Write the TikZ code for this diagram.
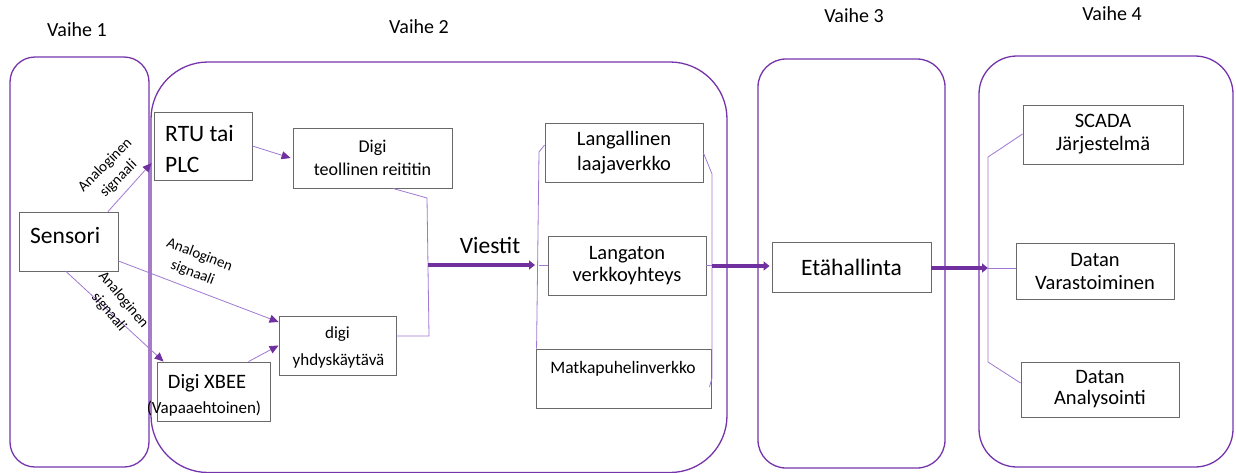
\documentclass[tikz,border=0pt]{standalone}
\usepackage{fontspec}
\setmainfont{Carlito}
\usetikzlibrary{arrows.meta}
\definecolor{panel}{RGB}{118,52,172}
\definecolor{conn}{RGB}{160,120,210}
\definecolor{tipc}{RGB}{112,48,160}
\definecolor{boxc}{RGB}{105,105,105}
\begin{document}
\begin{tikzpicture}[x=1pt,y=-1pt,
  panelst/.style={draw=panel, line width=1.3pt},
  box/.style={draw=boxc, line width=0.9pt, inner sep=0pt, fill=white},
  txt/.style={inner sep=0pt, text=black},
  conn/.style={draw=conn, line width=0.8pt, -{Triangle[length=9pt,width=8pt,color=tipc]}},
  brk/.style={draw=conn, line width=0.8pt},
  thickarr/.style={draw=tipc, line width=3.5pt, -{Triangle[length=6pt,width=9pt]}},
  lbl/.style={inner sep=0pt, align=center, font=\fontsize{15}{19}\selectfont},
  head/.style={inner sep=0pt, anchor=base, font=\fontsize{20}{24}\selectfont},
  big/.style={font=\fontsize{23.5}{28}\selectfont},
  mid/.style={align=center, font=\fontsize{20.5}{23}\selectfont}
]
\useasboundingbox (0,0) rectangle (1236,472);

% panels
\draw[panelst, rounded corners=25pt] (10,57) rectangle (149,467);
\draw[panelst, rounded corners=57pt] (151,62) rectangle (727,472.5);
\draw[panelst, rounded corners=28pt] (758,59) rectangle (945,468);
\draw[panelst, rounded corners=38pt] (979,56) rectangle (1233,467);

% headers
\node[head] (h1) at (77,36) {Vaihe 1};
\node[head] (h2) at (419,33) {Vaihe 2};
\node[head] (h3) at (854,22) {Vaihe 3};
\node[head] (h4) at (1112,20) {Vaihe 4};

% boxes
\node[box, minimum width=99pt, minimum height=59pt] (sensori) at (68.5,241.5) {};
\node[txt, big, anchor=base west] (sensoriT) at (30,243) {Sensori};

\node[box, minimum width=98pt, minimum height=68pt] (rtu) at (203,146) {};
\node[txt, big, anchor=base west] (rtuT1) at (165,141) {RTU tai};
\node[txt, big, anchor=base west] (rtuT2) at (165,172) {PLC};

\node[box, minimum width=159pt, minimum height=60pt, align=center,
      font=\fontsize{18}{23}\selectfont] (router) at (372.5,158) {Digi\\teollinen reititin};

\node[box, minimum width=117pt, minimum height=59pt] (yhdys) at (337.5,345.5) {};
\node[txt, anchor=base, font=\fontsize{17}{20}\selectfont] (yhdysT1) at (337.5,338) {digi};
\node[txt, anchor=base, font=\fontsize{17}{20}\selectfont] (yhdysT2) at (338.5,365) {yhdyskäytävä};

\node[box, minimum width=113pt, minimum height=59pt] (xbee) at (213.5,391.5) {};
\node[txt, anchor=base, font=\fontsize{20.5}{24}\selectfont] (xbeeT1) at (207,388) {Digi XBEE};
\node[txt, anchor=base, font=\fontsize{17}{20}\selectfont] (xbeeT2) at (204,413) {(Vapaaehtoinen)};

\node[box, mid, minimum width=158pt, minimum height=59pt,
      font=\fontsize{20.5}{25}\selectfont] (lan) at (624,152.5) {Langallinen\\laajaverkko};
\node[box, mid, minimum width=158pt, minimum height=59pt,
      font=\fontsize{20.5}{22}\selectfont] (wlan) at (627,265.5) {Langaton\\verkkoyhteys};
\node[box, minimum width=175pt, minimum height=59pt] (matka) at (623.5,378.5) {};
\node[txt, anchor=base, font=\fontsize{17.5}{20}\selectfont] (matkaT) at (623,373) {Matkapuhelinverkko};

\node[box, big, minimum width=159pt, minimum height=50pt] (eta) at (851.5,267) {Etähallinta};

\node[box, mid, minimum width=160pt, minimum height=59pt] (scada) at (1103,134.5) {SCADA\\Järjestelmä};
\node[box, mid, minimum width=158pt, minimum height=56pt] (vara) at (1095,271) {Datan\\Varastoiminen};
\node[box, mid, minimum width=158pt, minimum height=55pt,
      font=\fontsize{20.5}{21}\selectfont] (anal) at (1100,389.5) {Datan\\Analysointi};

% connectors from sensor
\draw[conn] ([xshift=39.5pt]sensori.north) -- ([xshift=-2pt,yshift=-17pt]rtu.west);
\draw[conn] ([yshift=-19.5pt]sensori.east) -- ([yshift=23.5pt]yhdys.west);
\draw[conn] ([xshift=-2.5pt]sensori.south) -- ([xshift=7pt]xbee.north west);
\draw[conn] ([xshift=-22pt]xbee.north east) -- (yhdys.west);
\draw[conn] (rtu.east) -- ([xshift=-2pt]router.west);

\node[lbl, rotate=45] (l1) at (112,172) {Analoginen\\signaali};
\node[lbl, rotate=-21] (l2) at (196,264) {Analoginen\\signaali};
\node[lbl, rotate=-50] (l3) at (116,306) {Analoginen\\signaali};

% gateway bracket and Viestit
\coordinate (rb1) at (427,198);
\coordinate (rb2) at (429,336);
\draw[brk] ([xshift=20.5pt]router.south) -- (rb1) -- (rb2) -- (yhdys.east |- rb2);
\coordinate (vs) at (428,265);
\coordinate (vt) at (535,265);
\draw[thickarr] (vs) -- (vt);
\node[txt, big, anchor=base] (viestit) at (490,253) {Viestit};

% network brackets
\coordinate (lb1) at (539,152);
\coordinate (lb2) at (538.5,265.5);
\draw[brk] ([yshift=7.5pt]lan.west) -- (lb1) -- ([xshift=1pt]matka.north west);
\draw[brk] (lb2) -- (wlan.west);
\coordinate (rb3) at (712,174);
\coordinate (rb4) at (712,378);
\coordinate (rb5) at (712,266);
\draw[brk] ([yshift=-0.5pt]lan.east) -- (rb3) -- (rb4) -- ([xshift=-2pt,yshift=-8.5pt]matka.east);
\draw[brk] (wlan.east) -- (wlan.east -| rb5);
\draw[thickarr] (rb5) -- ([xshift=-2pt]rb5 -| eta.west);

% Vaihe 4
\coordinate (v4c) at (988,268);
\coordinate (v4a) at (988,157);
\coordinate (v4b) at (988,362);
\draw[thickarr] (eta.east |- v4c) -- (v4c);
\draw[brk] (v4c) -- (v4c -| vara.west);
\draw[brk] ([yshift=0.5pt]scada.west) -- (v4a) -- (v4b) -- ([yshift=6.5pt]anal.west);
\end{tikzpicture}
\end{document}
